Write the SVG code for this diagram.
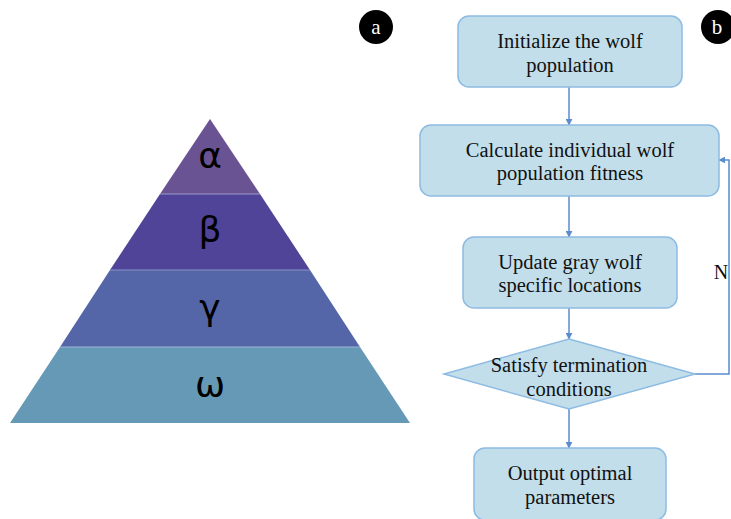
<svg xmlns="http://www.w3.org/2000/svg" width="731" height="519" viewBox="0 0 731 519">
<defs>
<marker id="ah" viewBox="0 0 10 10" refX="9" refY="5" markerWidth="7" markerHeight="7" markerUnits="userSpaceOnUse" orient="auto">
<path d="M0,0 L10,5 L0,10 z" fill="#5B8CCB"/>
</marker>
<style>
.box{fill:#C2DEEB;stroke:#8DBBE2;stroke-width:1.5}
.t{font-family:"Liberation Serif",serif;font-size:20.5px;fill:#111;text-anchor:middle}
.g{font-family:"DejaVu Sans","Noto Sans",sans-serif;font-size:36px;fill:#000;text-anchor:middle}
.c{stroke:#5B8CCB;stroke-width:1.5;fill:none}
.lbl{font-family:"Liberation Serif",serif;font-size:21px;fill:#fff;text-anchor:middle}
</style>
</defs>
<rect width="731" height="519" fill="#fff"/>
<g id="pyramid">
<polygon points="210,119 160,194 260,194" fill="#6A5393"/>
<polygon points="160,194 260,194 310,270 110,270" fill="#4F4497"/>
<polygon points="110,270 310,270 360,347 60,347" fill="#5465A8"/>
<polygon points="60,347 360,347 410,423 10,423" fill="#6699B6"/>
<line x1="160" y1="194" x2="260" y2="194" stroke="#9A9CC8" stroke-width="1"/>
<line x1="110" y1="270" x2="310" y2="270" stroke="#8C93C8" stroke-width="1"/>
<line x1="60" y1="347" x2="360" y2="347" stroke="#9DB8D8" stroke-width="1"/>
<text class="g" x="210" y="168">α</text>
<text class="g" x="210" y="242">β</text>
<text class="g" x="210" y="320">γ</text>
<text class="g" x="210" y="397">ω</text>
</g>
<g id="label-a">
<circle cx="376" cy="27" r="17" fill="#000"/>
<text class="lbl" x="376" y="34">a</text>
</g>
<g id="label-b">
<circle cx="718" cy="27" r="17" fill="#000"/>
<text class="lbl" x="717" y="34">b</text>
</g>
<g id="connectors">
<line class="c" x1="569" y1="87" x2="569" y2="125" marker-end="url(#ah)"/>
<line class="c" x1="569" y1="196" x2="569" y2="237" marker-end="url(#ah)"/>
<line class="c" x1="569" y1="308" x2="569" y2="339" marker-end="url(#ah)"/>
<line class="c" x1="569" y1="409" x2="569" y2="448" marker-end="url(#ah)"/>
<polyline class="c" points="695,374 729,374 729,160 719,160" marker-end="url(#ah)"/>
<text x="721" y="279" font-family="Liberation Serif,serif" font-size="20" fill="#111" text-anchor="middle">N</text>
</g>
<g id="n1">
<rect class="box" x="458" y="16" width="224" height="71" rx="11"/>
<text class="t" x="570" y="48">Initialize the wolf</text>
<text class="t" x="570" y="72">population</text>
</g>
<g id="n2">
<rect class="box" x="420" y="125" width="299" height="71" rx="11"/>
<text class="t" x="570" y="157">Calculate individual wolf</text>
<text class="t" x="570" y="180">population fitness</text>
</g>
<g id="n3">
<rect class="box" x="463" y="237" width="214" height="71" rx="11"/>
<text class="t" x="570" y="269">Update gray wolf</text>
<text class="t" x="570" y="292">specific locations</text>
</g>
<g id="n4">
<polygon class="box" points="569,339 695,374 569,409 444,374"/>
<text class="t" x="569" y="372">Satisfy termination</text>
<text class="t" x="569" y="396">conditions</text>
</g>
<g id="n5">
<rect class="box" x="474" y="448" width="192" height="72" rx="11"/>
<text class="t" x="570" y="480">Output optimal</text>
<text class="t" x="570" y="504">parameters</text>
</g>
</svg>
